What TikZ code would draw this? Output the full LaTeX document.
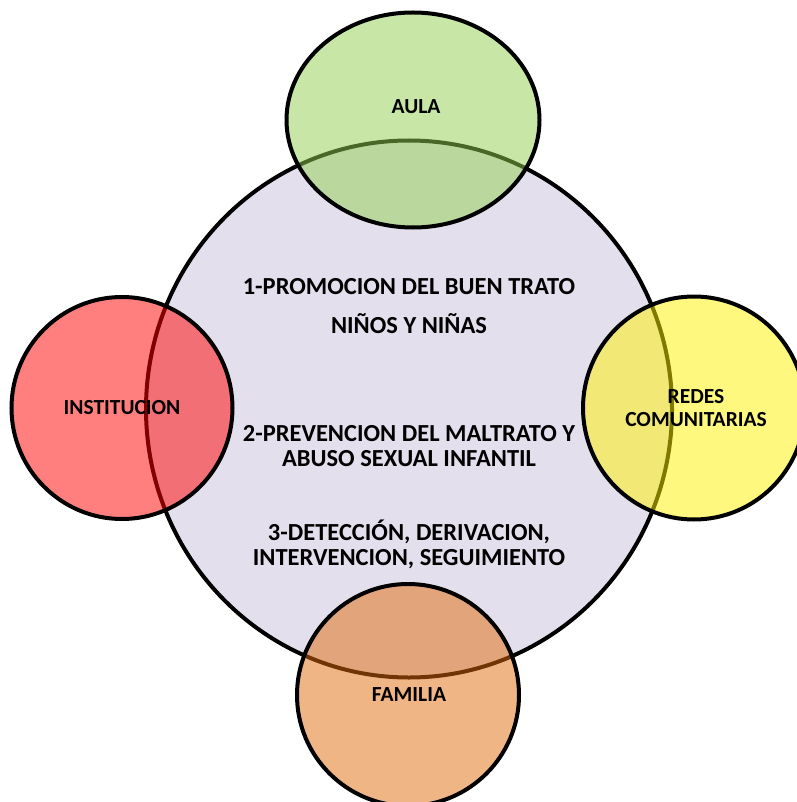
\documentclass[tikz,border=0pt]{standalone}
\usepackage{fontspec}
\setmainfont{Carlito}
\usetikzlibrary{shapes.geometric}
\definecolor{lavanda}{HTML}{E4DFEC}
\definecolor{verde}{HTML}{92D050}
\definecolor{naranja}{HTML}{E26B0A}
\tikzset{
  ring/.style={draw=black,line width=4pt,inner sep=0pt},
  aro/.style={ring,ellipse,fill opacity=0.5,draw opacity=1},
  txt/.style={font=\bfseries\fontsize{24.5}{25}\selectfont,align=center,text=black},
  etiq/.style={font=\bfseries\fontsize{21.5}{23}\selectfont,align=center,text=black}
}

\begin{document}
\begin{tikzpicture}[x=1pt,y=-1pt]
\useasboundingbox (0,0) rectangle (796,802);
% circulo central
\node[ring,ellipse,fill=lavanda,minimum width=526pt,minimum height=537pt] (centro) at (409,409) {};
% circulos de los entornos
\node[aro,fill=verde,minimum width=253pt,minimum height=215pt] (aula) at (413,120) {};
\node[aro,fill=red,minimum width=221pt,minimum height=222pt] (institucion) at (122,408) {};
\node[aro,fill=yellow,minimum width=222pt,minimum height=223pt] (redes) at (694,408) {};
\node[aro,fill=naranja,minimum width=222pt,minimum height=222pt] (familia) at (408,695) {};
% textos
\node[etiq] (taula) at (416,107) {AULA};
\node[etiq] (tinstitucion) at (122,408) {INSTITUCION};
\node[etiq] (tredes) at (696,408) {REDES\\COMUNITARIAS};
\node[etiq] (tfamilia) at (409,695) {FAMILIA};
\node[txt] (linea1) at (409,287) {1-PROMOCION DEL BUEN TRATO};
\node[txt] (linea1b) at (409,324) {NIÑOS Y NIÑAS};
\node[txt] (linea2) at (409,446) {2-PREVENCION DEL MALTRATO Y\\ABUSO SEXUAL INFANTIL};
\node[txt] (linea3) at (409,544) {3-DETECCIÓN, DERIVACION,\\INTERVENCION, SEGUIMIENTO};
\end{tikzpicture}
\end{document}
